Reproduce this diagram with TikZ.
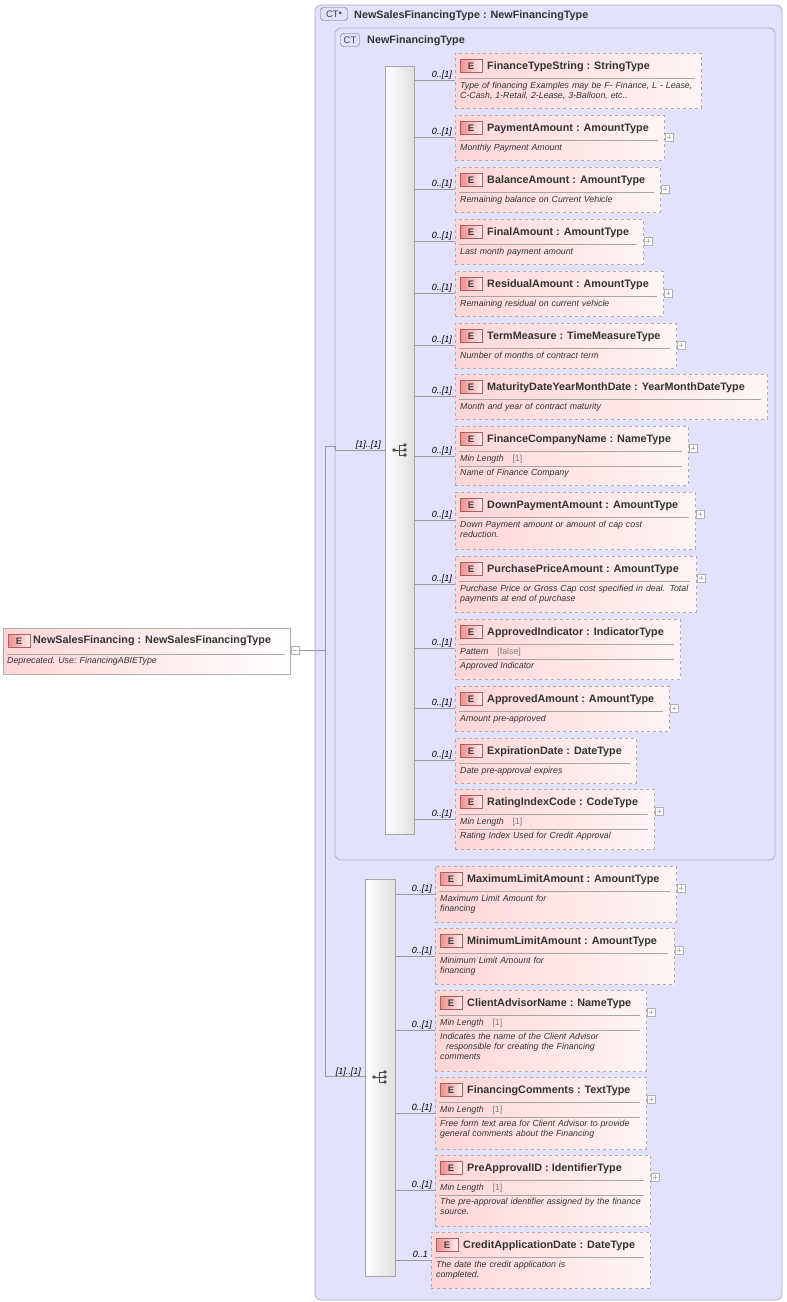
\documentclass[tikz,border=0pt]{standalone}
\usepackage{fontspec}
\setmainfont{Liberation Sans}
\usetikzlibrary{calc}
\definecolor{bluebg}{RGB}{226,226,252}
\definecolor{bluebd}{RGB}{170,170,200}
\definecolor{eborder}{RGB}{175,175,175}
\definecolor{epink}{RGB}{255,214,214}
\definecolor{epinkl}{RGB}{255,244,244}
\definecolor{badge}{RGB}{240,140,140}
\tikzset{
 ebox/.style={draw=eborder,dashed,left color=epink,right color=epinkl,line width=0.6pt},
 rbox/.style={draw=eborder,left color=epink,right color=white,line width=0.6pt},
 ttl/.style={anchor=base west,font=\bfseries\fontsize{10.8}{12}\selectfont,text=black!80,inner sep=0},
 doc/.style={anchor=north west,font=\itshape\fontsize{8.8}{10}\selectfont,text=black!80,inner sep=0,align=left},
 card/.style={anchor=base east,font=\itshape\fontsize{9}{10}\selectfont,inner sep=0},
 sep/.style={draw=gray!70,line width=0.5pt},
 conn/.style={draw=gray!80,line width=0.6pt},
 bar/.style={draw=gray!70,left color=white,right color=gray!25,line width=0.6pt},
 plus/.style={draw=gray!60,fill=white,minimum size=8pt,inner sep=0},
 ctb/.style={draw=bluebd!60!black,fill=bluebg!60!blue!25,rounded corners=3pt,font=\fontsize{9.5}{10}\selectfont,text=black!75,inner sep=1.5pt,minimum height=13pt},
}
\newcommand\ebadge[2]{%
 \shade[left color=badge,right color=white!85!badge,draw=badge!70!black,line width=0.5pt] (#1+5,#2+6) rectangle (#1+27,#2+19);
 \node[font=\bfseries\fontsize{9.5}{10}\selectfont,text=black!75,inner sep=0] at (#1+16,#2+12.8) {E};}
\newcommand\elm[9]{%
 \node[ebox,anchor=north west,minimum width=#4-#2,minimum height=#5-#3,inner sep=0] (#1) at (#2,#3) {};
 \ebadge{#2}{#3}
 \node[ttl] (#1-t) at (#2+32,#3+16) {#6};
 \draw[sep] (#2+4,#3+25) -- (#4-6,#3+25);
 \ifx&#7&
  \node[doc,text width=#4-#2-12] (#1-d) at (#2+5,#3+29) {#8};
 \else
  \node[doc] (#1-f) at (#2+5,#3+29) {Min Length\quad\textcolor{gray}{\upshape[1]}};
  \draw[sep] (#2+4,#3+40) -- (#4-6,#3+40);
  \node[doc,text width=#4-#2-12] (#1-d) at (#2+5,#3+43) {#8};
 \fi
 \ifnum#9=1 \node[plus] (#1-p) at (#4+5,#3+22) {\tikz\draw[gray!60,line width=0.4pt](0,0)--(4pt,0)(2pt,-2pt)--(2pt,2pt);};\fi
}
\newcommand\seqicon[2]{%
 \fill[black!70] (#1-6,#2) circle (1.8pt);
 \draw[black!70,line width=0.9pt] (#1-6,#2)--(#1-1,#2) (#1-1,#2-5)--(#1-1,#2+5) (#1-1,#2-5)--(#1+5,#2-5) (#1-1,#2)--(#1+5,#2) (#1-1,#2+5)--(#1+5,#2+5);
 \foreach \d in {-5,0,5} \fill[black!70] (#1+5,#2+\d) circle (1.8pt);}
\newcommand\lnk[4]{%
 \coordinate (#2-c) at (#2.west |- 0,#3);
 \draw[conn] (#1.east |- #2-c) -- (#2-c);
 \node[card] at ($(#2-c)+(-3,-2.5)$) {#4};}
\begin{document}
\begin{tikzpicture}[x=1pt,y=-1pt]
\useasboundingbox (0,0) rectangle (787,1302);
\draw[draw=bluebd,fill=bluebg,rounded corners=6pt,line width=0.7pt] (315,5) rectangle (782,1300);
\node[ctb,minimum width=27pt] (ct1) at (334,14) {CT\raisebox{0.5pt}{\textbullet}};
\node[ttl] (ct1t) at (354,18) {NewSalesFinancingType : NewFinancingType};
\draw[draw=bluebd,fill=bluebg,rounded corners=6pt,line width=0.7pt] (335,28) rectangle (775,860);
\node[ctb,minimum width=19pt] (ct2) at (350,40) {CT};
\node[ttl] (ct2t) at (367,43) {NewFinancingType};
\node[bar,anchor=north west,minimum width=29,minimum height=768,inner sep=0] (bar1) at (385,66) {};
\node[bar,anchor=north west,minimum width=30,minimum height=397,inner sep=0] (bar2) at (365,879) {};
\seqicon{400}{450}
\seqicon{380}{1077}
\node[rbox,anchor=north west,minimum width=287,minimum height=46,inner sep=0] (root) at (3,628) {};
\ebadge{3}{628}
\node[ttl] (root-t) at (33,643) {NewSalesFinancing : NewSalesFinancingType};
\draw[sep] (7,654) -- (285,654);
\node[doc] (root-d) at (7,657) {Deprecated. Use: FinancingABIEType};
\node[plus] (rootm) at (295,650) {\tikz\draw[gray!60,line width=0.4pt](0,0)--(4pt,0);};
\coordinate (j1) at (325,446);
\coordinate (j2) at (325,1076);
\draw[conn] (rootm.east) -- (325,650);
\draw[conn] (j1) -- (j2);
\draw[conn] (j1) -- (335,446) -- (335,450) -- (bar1.west |- 0,450);
\draw[conn] (j2) -- (bar2.west |- j2);
\node[card] at (381,447) {[1]..[1]};
\node[card] at (361,1074) {[1]..[1]};
\elm{e1}{455}{53}{701}{108}{FinanceTypeString : StringType}{}{Type of financing Examples may be F- Finance, L - Lease, C-Cash, 1-Retail, 2-Lease, 3-Balloon, etc..}{0}
\elm{e2}{455}{115}{664}{160}{PaymentAmount : AmountType}{}{Monthly Payment Amount}{1}
\elm{e3}{455}{167}{660}{212}{BalanceAmount : AmountType}{}{Remaining balance on Current Vehicle}{1}
\elm{e4}{455}{219}{643}{264}{FinalAmount : AmountType}{}{Last month payment amount}{1}
\elm{e5}{455}{271}{663}{316}{ResidualAmount : AmountType}{}{Remaining residual on current vehicle}{1}
\elm{e6}{455}{323}{676}{368}{TermMeasure : TimeMeasureType}{}{Number of months of contract term}{1}
\elm{e7}{455}{374}{767}{419}{MaturityDateYearMonthDate : YearMonthDateType}{}{Month and year of contract maturity}{0}
\elm{e8}{455}{426}{688}{485}{FinanceCompanyName : NameType}{x}{Name of Finance Company}{1}
\elm{e9}{455}{492}{695}{549}{DownPaymentAmount : AmountType}{}{Down Payment amount or amount of cap cost\\reduction.}{1}
\elm{e10}{455}{556}{696}{612}{PurchasePriceAmount : AmountType}{}{Purchase Price or Gross Cap cost specified in deal. Total\\payments at end of purchase}{1}
\node[ebox,anchor=north west,minimum width=225,minimum height=60,inner sep=0] (e11) at (455,619) {};
\ebadge{455}{619}
\node[ttl] (e11-t) at (487,635) {ApprovedIndicator : IndicatorType};
\draw[sep] (459,644) -- (674,644);
\node[doc] (e11-f) at (460,648) {Pattern\quad\textcolor{gray}{\upshape[false]}};
\draw[sep] (459,659) -- (674,659);
\node[doc] (e11-d) at (460,662) {Approved Indicator};
\elm{e12}{455}{686}{669}{731}{ApprovedAmount : AmountType}{}{Amount pre-approved}{1}
\elm{e13}{455}{738}{636}{783}{ExpirationDate : DateType}{}{Date pre-approval expires}{0}
\elm{e14}{455}{789}{654}{849}{RatingIndexCode : CodeType}{x}{Rating Index Used for Credit Approval}{1}
\lnk{bar1}{e1}{80}{0..[1]}
\lnk{bar1}{e2}{137}{0..[1]}
\lnk{bar1}{e3}{189}{0..[1]}
\lnk{bar1}{e4}{241}{0..[1]}
\lnk{bar1}{e5}{293}{0..[1]}
\lnk{bar1}{e6}{345}{0..[1]}
\lnk{bar1}{e7}{396}{0..[1]}
\lnk{bar1}{e8}{456}{0..[1]}
\lnk{bar1}{e9}{520}{0..[1]}
\lnk{bar1}{e10}{584}{0..[1]}
\lnk{bar1}{e11}{648}{0..[1]}
\lnk{bar1}{e12}{708}{0..[1]}
\lnk{bar1}{e13}{760}{0..[1]}
\lnk{bar1}{e14}{819}{0..[1]}
\elm{f1}{435}{866}{676}{922}{MaximumLimitAmount : AmountType}{}{Maximum Limit Amount for\\financing}{1}
\elm{f2}{435}{928}{674}{984}{MinimumLimitAmount : AmountType}{}{Minimum Limit Amount for\\financing}{1}
\elm{f3}{435}{990}{646}{1071}{ClientAdvisorName : NameType}{x}{Indicates the name of the Client Advisor\\\hspace*{6pt}responsible for creating the Financing\\comments}{1}
\elm{f4}{435}{1077}{646}{1149}{FinancingComments : TextType}{x}{Free form text area for Client Advisor to provide\\general comments about the Financing}{1}
\elm{f5}{435}{1155}{650}{1226}{PreApprovalID : IdentifierType}{x}{The pre-approval identifier assigned by the finance\\source.}{1}
\elm{f6}{431}{1232}{650}{1288}{CreditApplicationDate : DateType}{}{The date the credit application is\\completed.}{0}
\lnk{bar2}{f1}{894}{0..[1]}
\lnk{bar2}{f2}{956}{0..[1]}
\lnk{bar2}{f3}{1030}{0..[1]}
\lnk{bar2}{f4}{1113}{0..[1]}
\lnk{bar2}{f5}{1190}{0..[1]}
\lnk{bar2}{f6}{1260}{0..1}
\end{tikzpicture}
\end{document}
